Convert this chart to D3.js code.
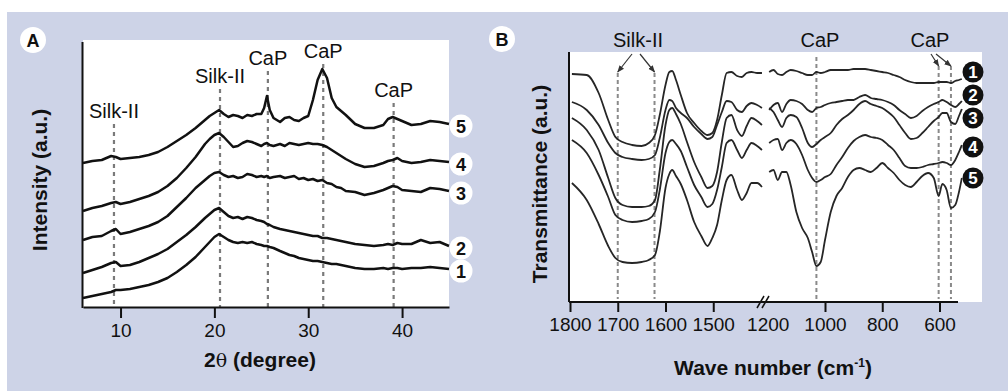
<!DOCTYPE html>
<html>
<head>
<meta charset="utf-8">
<script src="https://cdn.jsdelivr.net/npm/d3@7"></script>
<style>
body { margin: 0; background: #fff; }
text { font-family: "Liberation Sans", Arial, Helvetica, sans-serif; fill: #111; }
</style>
</head>
<body>
<script>
var width = 1008;
var height = 391;

// ---- panel A: XRD, 2theta in degrees, intensity in arbitrary units
var xrdAngles = [6, 7, 8, 9, 9.5, 10, 11, 12, 13, 14,
  15, 16, 17, 18, 19, 19.5, 20, 20.5, 21, 21.5,
  22, 22.5, 23, 23.5, 24, 24.5, 25, 25.3, 25.6, 25.9,
  26.3, 27, 27.5, 28, 28.5, 29, 29.5, 30, 30.5, 31,
  31.5, 32, 32.5, 33, 33.5, 34, 35, 36, 37, 38,
  38.5, 39, 39.5, 40, 41, 42, 43, 44, 45];
var xrd1 = [9, 11, 13, 15, 17, 17, 18, 20, 22, 25,
  29, 35, 42, 50, 60, 65, 70, 73, 70, 67,
  65, 64, 65, 64, 65, 63, 62, 61, 61, 60,
  59, 56, 54, 52, 51, 49, 48, 47, 46, 46,
  45, 44, 43, 43, 42, 41, 39, 38, 38, 39,
  38, 39, 39, 38, 39, 39, 40, 39, 38];
var xrd2 = [34, 37, 40, 44, 45, 41, 42, 45, 49, 53,
  58, 65, 72, 80, 89, 93, 97, 99, 95, 91,
  89, 90, 88, 90, 89, 87, 86, 85, 83, 82,
  80, 78, 77, 76, 75, 74, 73, 72, 71, 71,
  69, 69, 68, 67, 66, 65, 63, 62, 61, 62,
  63, 62, 64, 63, 63, 67, 64, 65, 61];
var xrd3 = [67, 70, 71, 76, 78, 73, 75, 78, 81, 85,
  91, 100, 109, 119, 127, 131, 134, 135, 132, 130,
  131, 129, 130, 133, 132, 130, 131, 130, 131, 129,
  130, 131, 129, 130, 131, 128, 129, 127, 128, 126,
  127, 124, 123, 120, 119, 116, 115, 112, 114, 117,
  119, 121, 120, 117, 116, 115, 119, 118, 116];
var xrd4 = [96, 99, 101, 104, 105, 103, 105, 108, 111, 115,
  121, 129, 139, 150, 163, 168, 172, 174, 170, 165,
  160, 161, 164, 166, 165, 163, 161, 163, 164, 162,
  161, 163, 161, 164, 163, 162, 163, 164, 163, 163,
  162, 160, 157, 154, 151, 148, 143, 140, 141, 144,
  146, 147, 149, 146, 144, 145, 147, 146, 145];
var xrd5 = [144, 146, 147, 151, 150, 148, 149, 150, 152, 155,
  160, 166, 172, 179, 187, 191, 194, 197, 193, 190,
  192, 191, 189, 192, 191, 193, 193, 199, 211, 197,
  189, 185, 189, 190, 187, 186, 189, 191, 207, 227,
  238, 229, 209, 200, 196, 192, 183, 179, 179, 182,
  188, 190, 188, 186, 182, 183, 186, 185, 183];
var xrdSeries = [xrd1, xrd2, xrd3, xrd4, xrd5];
var xrdNames = ["1", "2", "3", "4", "5"];
var xrdTicks = [10, 20, 30, 40];
var xrdPeaks = [9.3, 20.6, 25.7, 31.6, 39.1];
var xrdPeakNames = ["Silk-II", "Silk-II", "CaP", "CaP", "CaP"];
var xrdPeakLabelLevel = [189, 224, 242, 249, 210];

// ---- panel B: FTIR, wave number in cm-1 (axis broken between 1400 and 1200)
var irWaveLeft = [1796, 1765, 1740, 1720, 1705, 1690, 1670, 1650, 1635, 1622,
  1612, 1600, 1592, 1586, 1578, 1568, 1555, 1540, 1525, 1512,
  1502, 1492, 1482, 1472, 1462, 1450, 1440, 1430, 1420, 1408, 1398];
var irWaveRight = [1195, 1180, 1165, 1150, 1135, 1120, 1100, 1080, 1060, 1045,
  1030, 1015, 1000, 980, 960, 940, 920, 900, 880, 860,
  840, 820, 800, 780, 760, 740, 720, 700, 680, 660,
  640, 620, 603, 590, 575, 560, 545, 532, 522];
var ir1Left = [228, 227, 209, 182, 165, 160, 157, 156, 159, 167,
  187, 217, 230, 231, 222, 207, 189, 179, 171, 167,
  169, 182, 207, 229, 230, 226, 225, 229, 230, 229, 229];
var ir1Right = [230, 232, 228, 227, 230, 232, 231, 229, 227, 227,
  230, 229, 230, 232, 232, 232, 232, 233, 233, 233,
  232, 231, 230, 229, 227, 225, 222, 220, 219, 219,
  219, 219, 220, 220, 220, 219, 221, 222, 223];
var ir2Left = [200, 192, 177, 159, 149, 145, 143, 142, 143, 147,
  164, 192, 202, 201, 194, 189, 184, 175, 168, 163,
  165, 177, 190, 201, 200, 192, 190, 196, 199, 197, 194];
var ir2Right = [192, 197, 199, 190, 198, 202, 201, 198, 192, 190,
  194, 195, 197, 199, 200, 201, 202, 202, 205, 207,
  204, 203, 202, 200, 197, 192, 188, 184, 186, 191,
  195, 198, 200, 202, 200, 197, 195, 198, 201];
var ir3Left = [184, 172, 152, 124, 104, 97, 95, 95, 96, 102,
  132, 177, 192, 194, 188, 178, 160, 140, 125, 114,
  116, 130, 160, 184, 187, 172, 166, 176, 184, 181, 177];
var ir3Right = [194, 190, 182, 175, 184, 187, 185, 174, 159, 155,
  158, 162, 165, 169, 177, 183, 187, 192, 198, 201,
  198, 196, 194, 190, 185, 177, 169, 163, 164, 169,
  175, 181, 185, 189, 189, 180, 178, 186, 193];
var ir4Left = [162, 149, 127, 105, 87, 82, 80, 81, 83, 90,
  112, 149, 160, 162, 158, 151, 135, 117, 105, 95,
  98, 112, 135, 159, 162, 152, 144, 152, 159, 156, 152];
var ir4Right = [159, 162, 163, 152, 159, 162, 158, 147, 132, 124,
  120, 122, 125, 128, 137, 145, 154, 161, 165, 167,
  165, 164, 162, 157, 152, 144, 136, 134, 134, 135,
  137, 138, 139, 140, 139, 137, 142, 150, 157];
var ir5Left = [119, 102, 78, 56, 44, 40, 39, 40, 42, 47,
  70, 114, 128, 132, 126, 118, 102, 80, 66, 56,
  64, 77, 102, 122, 127, 112, 102, 109, 119, 119, 115];
var ir5Right = [130, 132, 122, 130, 130, 117, 90, 74, 64, 50,
  36, 40, 62, 90, 106, 114, 125, 132, 134, 132,
  130, 134, 139, 134, 129, 122, 117, 115, 120, 126,
  129, 124, 106, 118, 112, 94, 97, 110, 124];
var irLeft = [ir1Left, ir2Left, ir3Left, ir4Left, ir5Left];
var irRight = [ir1Right, ir2Right, ir3Right, ir4Right, ir5Right];
var irNames = ["1", "2", "3", "4", "5"];
var irLabelLevel = [230, 207, 184, 155, 124];
var irTicksLeft = [1800, 1700, 1600, 1500];
var irTicksRight = [1200, 1000, 800, 600];
var irBands = [1700, 1623, 1030, 603, 560];

var svg = d3.select("body")
            .append("svg")
            .attr("width", width)
            .attr("height", height);

svg.append("defs").append("marker")
  .attr("id", "arrow")
  .attr("viewBox", "0 0 10 10")
  .attr("refX", 9).attr("refY", 5)
  .attr("markerWidth", 6).attr("markerHeight", 6)
  .attr("orient", "auto")
  .append("path")
  .attr("d", "M0,1L10,5L0,9z")
  .attr("fill", "#333");

// lavender figure background
svg.append("rect")
  .attr("x", 7).attr("y", 12)
  .attr("width", width - 7).attr("height", height - 12)
  .attr("fill", "#cdd3e7");

function panelBadge(cx, cy, letter) {
  svg.append("circle").attr("cx", cx).attr("cy", cy).attr("r", 13).attr("fill", "#fff");
  svg.append("text").attr("x", cx).attr("y", cy + 6.5)
    .attr("text-anchor", "middle").attr("font-weight", "bold").attr("font-size", 18)
    .text(letter);
}

// ================= panel A =================
var xA = d3.scaleLinear().domain([6, 45]).range([83, 449]);
var yA = d3.scaleLinear().domain([0, 267]).range([307, 40]);

svg.append("rect").attr("x", 83).attr("y", 40).attr("width", 366).attr("height", 267).attr("fill", "#fff");
panelBadge(33, 40, "A");

var peaksA = svg.append("g");
xrdPeaks.forEach(function(p, i) {
  var base = yA(xrdPeakLabelLevel[i]);
  peaksA.append("line")
    .attr("x1", xA(p)).attr("x2", xA(p))
    .attr("y1", base + 6).attr("y2", yA(0))
    .attr("stroke", "#7a7a7a").attr("stroke-width", 2.2)
    .attr("stroke-dasharray", "4,4");
  peaksA.append("text")
    .attr("x", xA(p)).attr("y", base)
    .attr("text-anchor", "middle").attr("font-size", 20)
    .text(xrdPeakNames[i]);
});

var lineA = d3.line()
  .x(function(d, i) { return xA(xrdAngles[i]); })
  .y(function(d) { return yA(d); });

svg.append("g").selectAll("path")
  .data(xrdSeries)
  .enter().append("path")
  .attr("d", lineA)
  .attr("fill", "none")
  .attr("stroke", "#111")
  .attr("stroke-width", 2.5)
  .attr("stroke-linejoin", "round");

xrdSeries.forEach(function(s, i) {
  var cy = yA(s[s.length - 1]) + 2;
  svg.append("circle").attr("cx", 461).attr("cy", cy).attr("r", 11.5).attr("fill", "#fff");
  svg.append("text").attr("x", 461).attr("y", cy + 6.5)
    .attr("text-anchor", "middle").attr("font-weight", "bold").attr("font-size", 18)
    .text(xrdNames[i]);
});

var axisA = svg.append("g")
  .attr("transform", "translate(0,307)")
  .call(d3.axisBottom(xA).tickValues(xrdTicks).tickSize(11).tickPadding(6).tickSizeOuter(0));
axisA.select(".domain").attr("stroke", "#111").attr("stroke-width", 2);
axisA.selectAll(".tick line").attr("stroke", "#111").attr("stroke-width", 2);
axisA.selectAll(".tick text").attr("font-size", 19).attr("fill", "#111")
  .attr("font-family", "Liberation Sans, Arial, sans-serif");

svg.append("line").attr("x1", 82.5).attr("x2", 82.5).attr("y1", 42).attr("y2", 308)
  .attr("stroke", "#111").attr("stroke-width", 2);

var titleA = svg.append("text")
  .attr("x", 260).attr("y", 367)
  .attr("text-anchor", "middle").attr("font-weight", "bold").attr("font-size", 21);
titleA.append("tspan").text("2");
titleA.append("tspan").attr("font-weight", "normal").attr("font-family", "DejaVu Serif, serif").attr("font-size", 19).text("\u03b8");
titleA.append("tspan").text(" (degree)");

svg.append("text")
  .attr("transform", "translate(47,180) rotate(-90)")
  .attr("text-anchor", "middle").attr("font-weight", "bold").attr("font-size", 21)
  .text("Intensity (a.u.)");

// ================= panel B =================
var xBL = d3.scaleLinear().domain([1800, 1400]).range([570, 761]);
var xBR = d3.scaleLinear().domain([1200, 600]).range([767.75, 939.5]);
var yB = d3.scaleLinear().domain([0, 250]).range([302, 52]);

svg.append("rect").attr("x", 569).attr("y", 52).attr("width", 413).attr("height", 250).attr("fill", "#fff");
panelBadge(502, 39, "B");

function bandX(w) { return w > 1300 ? xBL(w) : xBR(w); }

var bandTop = [73, 73, 57, 66, 66];
var bandsB = svg.append("g");
irBands.forEach(function(w, i) {
  bandsB.append("line")
    .attr("x1", bandX(w)).attr("x2", bandX(w))
    .attr("y1", bandTop[i]).attr("y2", 299)
    .attr("stroke", "#8a8a8a").attr("stroke-width", 2)
    .attr("stroke-dasharray", "4,3");
});

// labels and arrows above panel B
function bandLabel(cx, text) {
  svg.append("text").attr("x", cx).attr("y", 47)
    .attr("text-anchor", "middle").attr("font-size", 20).text(text);
}
bandLabel(638, "Silk-II");
bandLabel(820, "CaP");
bandLabel(930, "CaP");
[[632, 1700], [640, 1623], [931, 603], [936, 560]].forEach(function(a) {
  svg.append("line")
    .attr("x1", a[0]).attr("y1", 54)
    .attr("x2", bandX(a[1])).attr("y2", a[1] > 1300 ? 72 : 66)
    .attr("stroke", "#333").attr("stroke-width", 1.2)
    .attr("marker-end", "url(#arrow)");
});

var lineBL = d3.line()
  .x(function(d, i) { return xBL(irWaveLeft[i]); })
  .y(function(d) { return yB(d); })
  .curve(d3.curveMonotoneX);
var lineBR = d3.line()
  .x(function(d, i) { return xBR(irWaveRight[i]); })
  .y(function(d) { return yB(d); })
  .curve(d3.curveMonotoneX);

var curvesB = svg.append("g")
  .attr("fill", "none").attr("stroke", "#262626")
  .attr("stroke-width", 1.8).attr("stroke-linejoin", "round");
curvesB.selectAll(".l").data(irLeft).enter().append("path").attr("class", "l").attr("d", lineBL);
curvesB.selectAll(".r").data(irRight).enter().append("path").attr("class", "r").attr("d", lineBR);

irNames.forEach(function(n, i) {
  var cy = yB(irLabelLevel[i]);
  svg.append("circle").attr("cx", 973).attr("cy", cy).attr("r", 10.5).attr("fill", "#111");
  svg.append("text").attr("x", 973).attr("y", cy + 6)
    .attr("text-anchor", "middle").attr("font-weight", "bold").attr("font-size", 17)
    .style("fill", "#fff").text(n);
});

// broken x axis
svg.append("line").attr("x1", 569).attr("x2", 958).attr("y1", 302).attr("y2", 302)
  .attr("stroke", "#111").attr("stroke-width", 2);
svg.append("line").attr("x1", 569).attr("x2", 569).attr("y1", 52).attr("y2", 302)
  .attr("stroke", "#111").attr("stroke-width", 2);

function styleAxis(g) {
  g.select(".domain").remove();
  g.selectAll(".tick line").attr("stroke", "#111").attr("stroke-width", 2);
  g.selectAll(".tick text").attr("font-size", 19).attr("fill", "#111")
    .attr("font-family", "Liberation Sans, Arial, sans-serif");
}
svg.append("g").attr("transform", "translate(0,302)")
  .call(d3.axisBottom(xBL).tickValues(irTicksLeft).tickFormat(d3.format("d")).tickSize(10).tickPadding(6))
  .call(styleAxis);
var axisBR = svg.append("g").attr("transform", "translate(0,302)")
  .call(d3.axisBottom(xBR).tickValues(irTicksRight).tickFormat(d3.format("d")).tickSize(10).tickPadding(6))
  .call(styleAxis);
axisBR.selectAll(".tick").filter(function(d) { return d === 1200; }).select("line").remove();

// break mark
[757, 762].forEach(function(bx) {
  svg.append("line").attr("x1", bx).attr("y1", 308).attr("x2", bx + 7).attr("y2", 296)
    .attr("stroke", "#111").attr("stroke-width", 1.5);
});

var titleB = svg.append("text")
  .attr("x", 773).attr("y", 375)
  .attr("text-anchor", "middle").attr("font-weight", "bold").attr("font-size", 21);
titleB.append("tspan").text("Wave number (cm");
titleB.append("tspan").attr("font-size", 12).attr("dy", -8).text("-1");
titleB.append("tspan").attr("dy", 8).text(")");

svg.append("text")
  .attr("transform", "translate(547,184) rotate(-90)")
  .attr("text-anchor", "middle").attr("font-weight", "bold").attr("font-size", 21)
  .text("Transmittance (a.u.)");
</script>
</body>
</html>
